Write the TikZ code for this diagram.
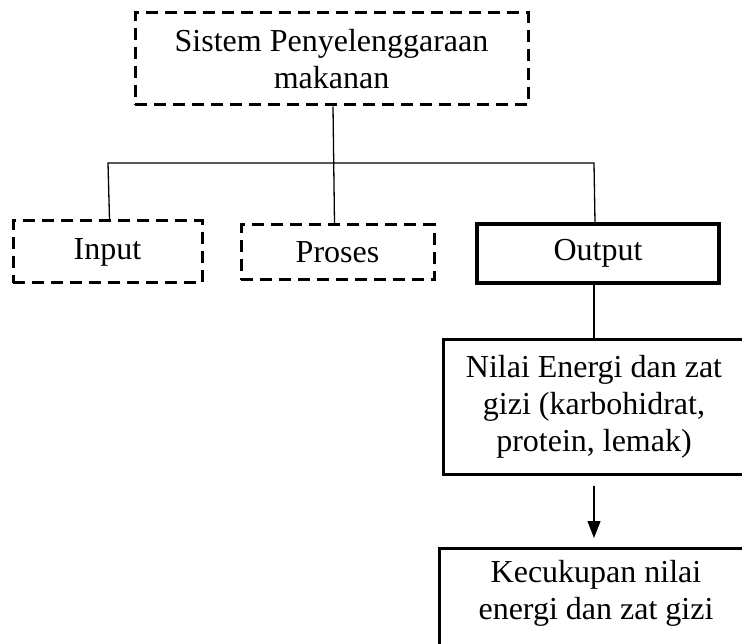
\documentclass[tikz,border=0pt]{standalone}
\usepackage{fontspec}
\setmainfont{Liberation Serif}
\usetikzlibrary{arrows.meta}
\tikzset{
  x=1pt,y=-1pt,
  txt/.style={font=\fontsize{32}{37}\selectfont, align=center, inner sep=0pt},
  dbox/.style={txt, draw, line width=3pt, dash pattern=on 12pt off 7pt},
  sbox/.style={txt, draw, line width=3pt},
  conn/.style={line width=1.3pt},
}
\begin{document}
\begin{tikzpicture}
\useasboundingbox (0,0) rectangle (742,644);
\node[dbox, minimum width=393, minimum height=92] (top) at (331.5,59) {Sistem Penyelenggaraan\\makanan};
\node[dbox, minimum width=189, minimum height=62] (input) at (107.5,252) {Input};
\node[dbox, minimum width=193, minimum height=55] (proses) at (337.5,252.5) {Proses};
\node[sbox, line width=3.5pt, minimum width=242, minimum height=59] (output) at (598,253.5) {Output};
\node[sbox, minimum width=302, minimum height=134] (nilai) at (594,407) {Nilai Energi dan zat\\gizi (karbohidrat,\\protein, lemak)};
\node[sbox, anchor=north, minimum width=314, inner ysep=12pt, text depth=70pt] (kec) at (596,547) {Kecukupan nilai\\energi dan zat gizi};
\coordinate (hl) at (108,163);
\coordinate (hr) at (594,163);
\draw[conn] ([xshift=1.5pt]top.south) -- ([xshift=-3pt]proses.north);
\draw[conn] ([xshift=2pt]input.north) -- (hl) -- (hr) -- ([xshift=-3pt]output.north);
\draw[conn] ([xshift=-4pt]output.south) -- (nilai.north);
\draw[conn, -{Triangle[length=17pt,width=13pt]}, shorten <=10pt, shorten >=9pt] (nilai.south) -- (nilai.south |- kec.north);
\end{tikzpicture}
\end{document}
